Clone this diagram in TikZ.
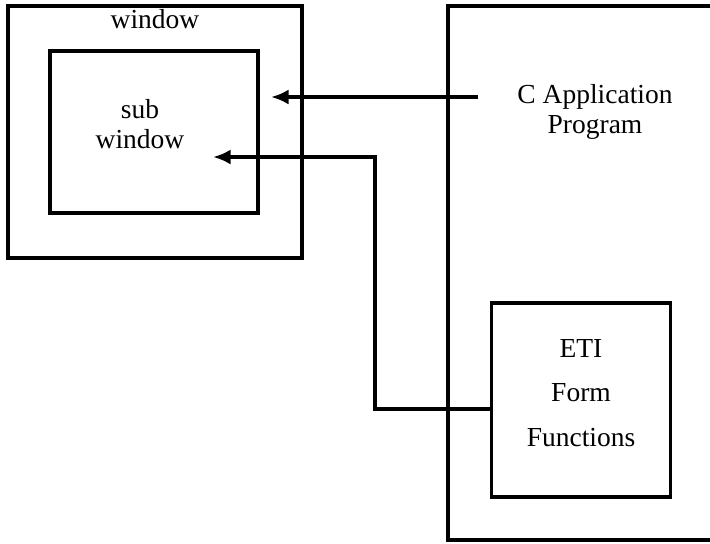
\documentclass[tikz,border=0pt]{standalone}
\usepackage{fontspec}
\setmainfont{Liberation Serif}
\usetikzlibrary{arrows.meta}

\tikzset{
  box/.style={draw,line width=1.4pt,inner sep=0pt},
  label text/.style={align=center,font=\fontsize{11}{12}\selectfont},
  link/.style={line width=1.4pt,-{Latex[length=7pt,width=6pt]}}
}

\begin{document}
\begin{tikzpicture}[x=0.4pt,y=-0.4pt]
  \useasboundingbox (0,0) rectangle (710,543);
  \clip (0,0) rectangle (710,543);

  % left side: the screen windows
  \node[box,minimum width=117.6pt,minimum height=100.8pt] (window) at (155,132) {};
  \node[box,minimum width=83.2pt,minimum height=64.8pt] (sub) at (154,132) {};
  \node[label text] (wtitle) at (155,19) {window};
  \node[label text] (stitle) at (140,124) {sub\\window};

  % right side: program and library
  \node[box,minimum width=116.8pt,minimum height=213.6pt] (prog) at (594,273) {};
  \node[label text] (ptitle) at (595,112) {C Application\\Program};
  \node[box,minimum width=71.6pt,minimum height=77.6pt] (eti) at (581,400) {};
  \node[label text] (etitle) at (581,393) {ETI\\[5.8pt]Form\\[5.8pt]Functions};

  \coordinate (from1) at (478,97);
  \coordinate (to1) at (271,97);
  \coordinate (bend2) at (375,157);
  \coordinate (to2) at (213,157);

  \draw[link] (from1) -- (to1);
  \draw[link] ([yshift=-3.6pt]eti.west) -| (bend2) -- (to2);

\end{tikzpicture}
\end{document}
